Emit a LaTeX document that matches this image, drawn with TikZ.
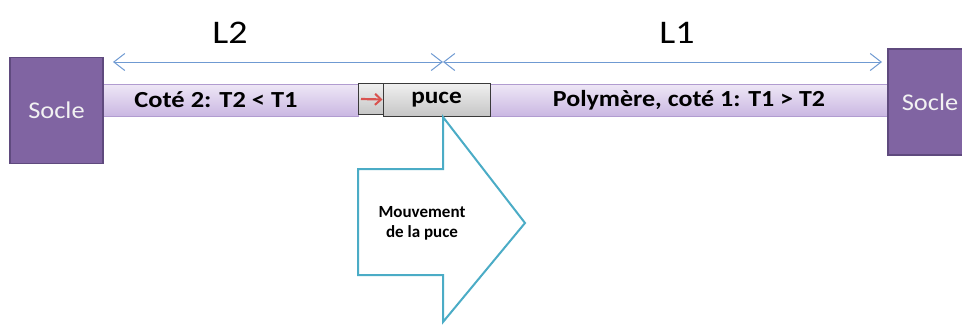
\documentclass[tikz,border=0pt]{standalone}
\usepackage{fontspec}
\setmainfont{Carlito}
\usepackage{graphicx}
\usetikzlibrary{arrows.meta}
\definecolor{soclefill}{HTML}{8064A2}
\definecolor{socleline}{HTML}{5F4A7E}
\definecolor{bartop}{HTML}{EEE7F6}
\definecolor{barbot}{HTML}{CAB7E2}
\definecolor{barline}{HTML}{B19CD0}
\definecolor{greytop}{HTML}{F0F0F0}
\definecolor{greybot}{HTML}{C6C6C6}
\definecolor{greyline}{HTML}{3A3A3A}
\definecolor{dimblue}{HTML}{6F9AD2}
\definecolor{arrowcyan}{HTML}{4BACC6}
\definecolor{redarrow}{HTML}{D9534F}
\begin{document}
\begin{tikzpicture}[x=1pt,y=-1pt,
  soclebox/.style={draw=socleline, fill=soclefill, line width=1.2pt, inner sep=0pt,
    text=white!95!black, font=\fontsize{24}{28}\selectfont},
  barbox/.style={draw=barline, line width=0.8pt, top color=bartop, bottom color=barbot, inner sep=0pt,
    minimum height=32pt, font=\fontsize{23}{27}\selectfont\bfseries},
  greybox/.style={draw=greyline, line width=1pt, top color=greytop, bottom color=greybot, inner sep=0pt,
    font=\fontsize{23}{27}\selectfont\bfseries},
  dimline/.style={draw=dimblue, line width=1pt, {Straight Barb[length=11pt,width=17pt,line width=1pt]}-{Straight Barb[length=11pt,width=17pt,line width=1pt]}},
  dimlabel/.style={inner sep=0pt, font=\fontsize{33}{37}\selectfont},
  movearrow/.style={draw=arrowcyan, line width=2pt, fill=white, line join=miter},
  movetext/.style={inner sep=0pt, align=center, font=\fontsize{17}{20}\selectfont\bfseries}
]
\useasboundingbox (0,0) rectangle (962,325);
\clip (0,0) rectangle (962,325);

% bars
\node[barbox, minimum width=255pt] (bar2) at (230.5,100) {};
\node[inner sep=0pt, font=\fontsize{23}{27}\selectfont\bfseries] (bar2text) at (216,100) {\scalebox{1.15}[1]{Coté 2: T2 < T1}};
\node[barbox, minimum width=398pt] (bar1) at (689,100) {\scalebox{1.13}[1]{Polymère, coté 1: T1 > T2}};

% socles
\node[soclebox, minimum width=93pt, minimum height=106pt] (socleL) at (56.5,110.5) {\scalebox{1.1}[1]{Socle}};
\node[soclebox, minimum width=84pt, minimum height=106pt] (socleR) at (930,102) {\scalebox{1.1}[1]{Socle}};

% chip
\node[greybox, minimum width=27pt, minimum height=31pt] (ghost) at (371.5,98.5) {};
\node[greybox, minimum width=107pt, minimum height=33pt] (puce) at (436.5,99.5) {\scalebox{1.1}[1]{puce}};
\coordinate (rstart) at (361,99);
\draw[redarrow, line width=2.2pt, -{Straight Barb[length=6pt,width=11pt,line width=2pt]}] (rstart) -- (puce.west);

% dimension lines
\coordinate (dimL) at (113,62);
\coordinate (dimM) at (443,62);
\coordinate (dimR) at (882,62);
\draw[dimline] (dimL) -- (dimM);
\draw[dimline] (dimM) -- (dimR);
\node[dimlabel] (L2) at (230,33) {\scalebox{1.15}[1]{L2}};
\node[dimlabel] (L1) at (677,33) {\scalebox{1.15}[1]{L1}};

% movement block arrow
\draw[movearrow] (443,117) -- (525,223) -- (443,322) -- (443,275) -- (358,275)
  -- (358,169) -- (443,169) -- cycle;
\node[movetext] (move) at (422,223) {Mouvement\\de la puce};
\end{tikzpicture}
\end{document}
